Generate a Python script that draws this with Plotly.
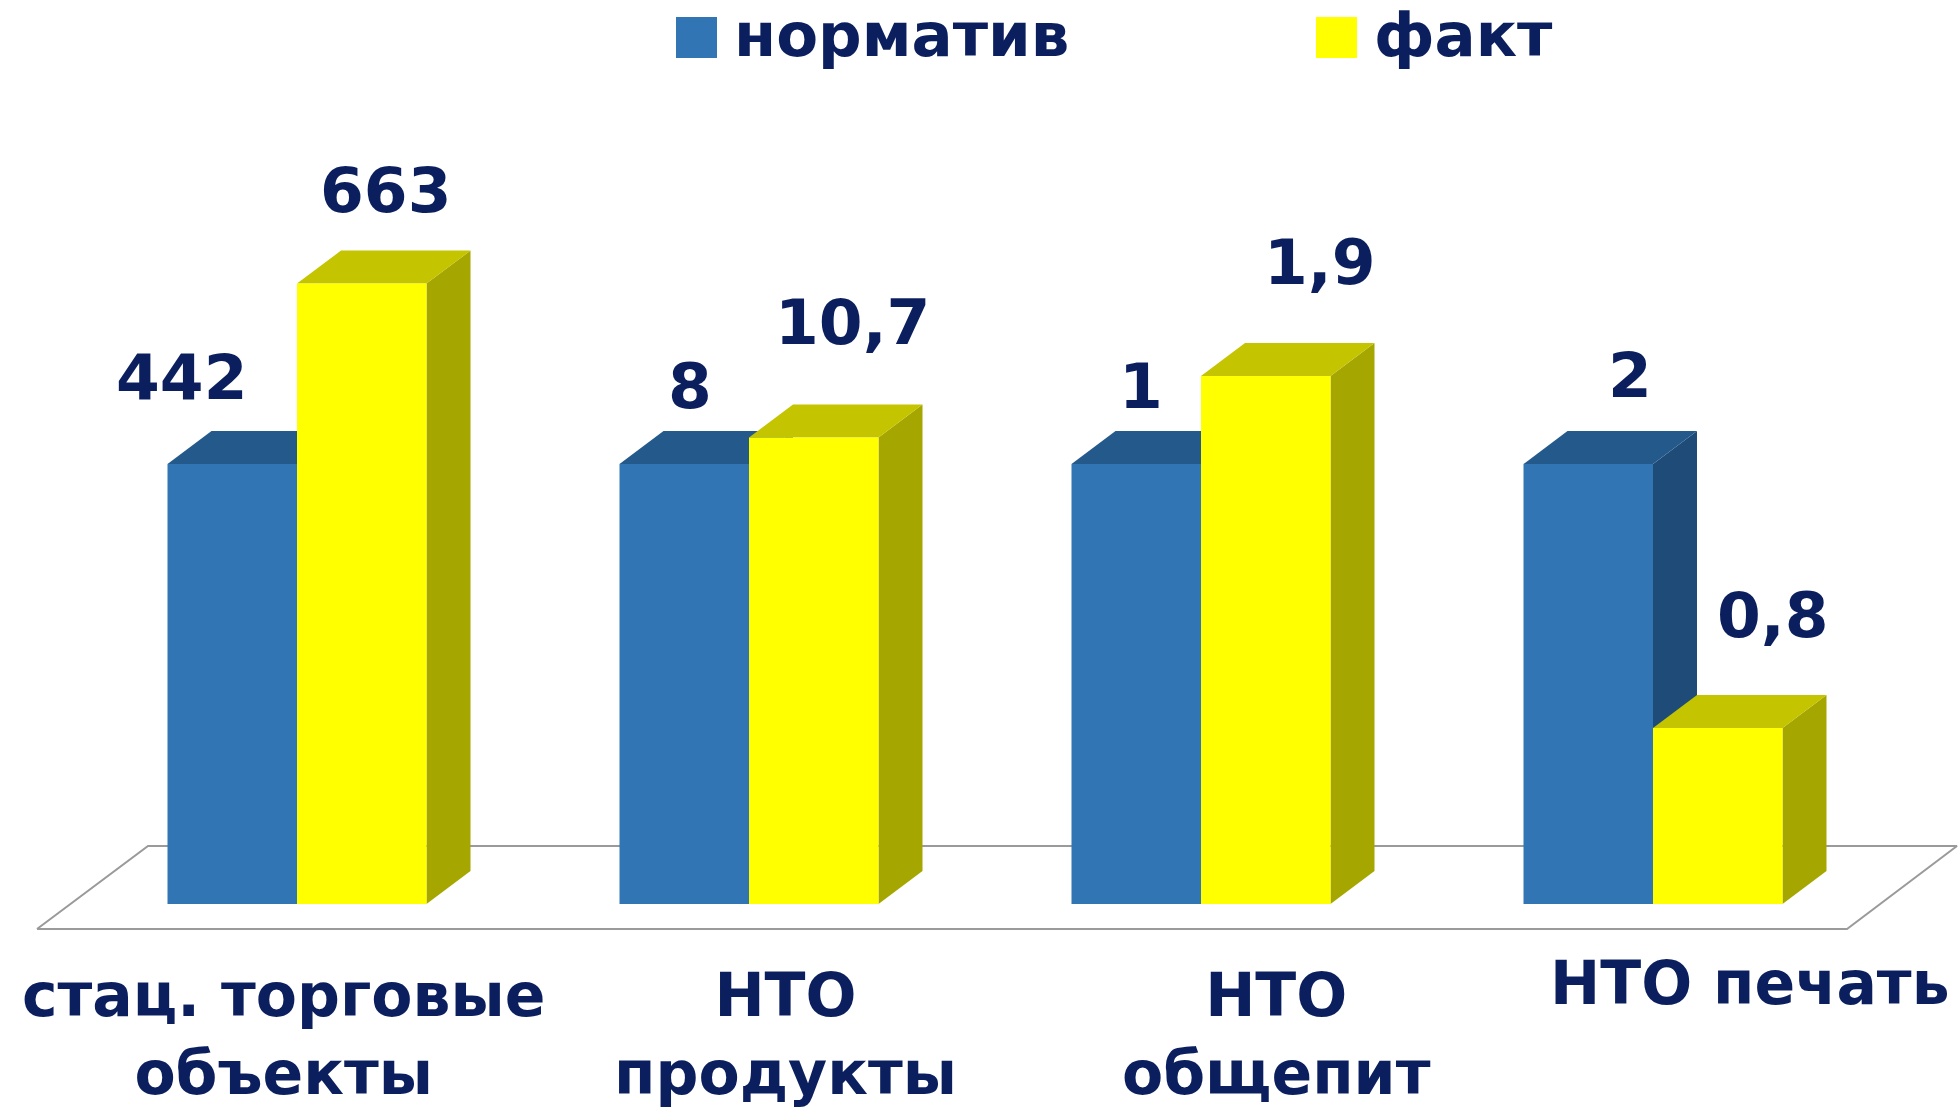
import plotly.graph_objects as go

# ---------------- data ----------------
categories = ["стац. торговые<br>объекты", "НТО<br>продукты", "НТО<br>общепит", "НТО печать"]
series_names = ["норматив", "факт"]
norm_labels = ["442", "8", "1", "2"]
fact_labels = ["663", "10,7", "1,9", "0,8"]
norm_height = [100, 100, 100, 100]      # bar heights (норматив = 100 %)
fact_height = [141, 106, 120, 40]       # bar heights

# ---------------- styling / geometry ----------------
W, H = 1959, 1114
X0PX, XS = 297, 452          # pixel of group 0 centre, pixels per group
Y0PX, YS = 904, 4.4          # pixel of value 0, pixels per unit
BAR_W = 129.5 / XS
DX, DY = 44 / XS, 33 / YS    # depth offsets
NAVY = "#0b1f5e"
FONT = "DejaVu Sans"

BLUE = dict(front="#3175b5", top="#245a8b", side="#1f4b78")
YELLOW = dict(front="#ffff00", top="#c4c400", side="#a6a600")

norm_dx = [-72, -16, -17, 20]
norm_dy = [54, 45, 45, 56]
fact_dx = [2, 17, 32, 33]
fact_dy = [60, 82, 81, 80]
cat_dx = [-14, 36, 75, 97]


def xd(px):
    return (px - X0PX) / XS


def yd(py):
    return (Y0PX - py) / YS


fig = go.Figure()

# floor
fl_x = [xd(37), xd(1847), xd(1957), xd(148), xd(37)]
fl_y = [yd(929), yd(929), yd(846), yd(846), yd(929)]
fig.add_trace(go.Scatter(x=fl_x, y=fl_y, mode="lines",
                         line=dict(color="#9a9a9a", width=2),
                         hoverinfo="skip", showlegend=False))


def add_box(x0, h, colors, name, label):
    x1 = x0 + BAR_W
    # side face
    fig.add_trace(go.Scatter(
        x=[x1, x1 + DX, x1 + DX, x1, x1], y=[0, DY, h + DY, h, 0],
        mode="lines", fill="toself", fillcolor=colors["side"],
        line=dict(width=0), hoverinfo="skip", showlegend=False))
    # top face
    fig.add_trace(go.Scatter(
        x=[x0, x1, x1 + DX, x0 + DX, x0], y=[h, h, h + DY, h + DY, h],
        mode="lines", fill="toself", fillcolor=colors["top"],
        line=dict(width=0), hoverinfo="skip", showlegend=False))
    # front face
    fig.add_trace(go.Scatter(
        x=[x0, x1, x1, x0, x0], y=[0, 0, h, h, 0],
        mode="lines", fill="toself", fillcolor=colors["front"],
        line=dict(width=0), name=name, text=label,
        hoveron="fills", showlegend=False))


for i in range(len(categories)):
    add_box(i - BAR_W, norm_height[i], BLUE, series_names[0], norm_labels[i])
    add_box(i, fact_height[i], YELLOW, series_names[1], fact_labels[i])

annotations = []
for i in range(len(categories)):
    for lab, h, x0, dxs, dys in ((norm_labels[i], norm_height[i], i - BAR_W, norm_dx[i], norm_dy[i]),
                                 (fact_labels[i], fact_height[i], i, fact_dx[i], fact_dy[i])):
        annotations.append(dict(
            x=x0 + BAR_W / 2 + DX / 2, y=h + DY, xref="x", yref="y",
            text=lab, showarrow=False, xanchor="center", yanchor="middle",
            xshift=dxs, yshift=dys,
            font=dict(family=FONT, size=63, color=NAVY, weight=700)))
    single = "<br>" not in categories[i]
    annotations.append(dict(
        x=i, y=yd(946 if single else 958), xref="x", yref="y",
        text=categories[i], showarrow=False, xanchor="center", yanchor="top",
        xshift=cat_dx[i], align="center",
        font=dict(family=FONT, size=60, color=NAVY, weight=700)))

# legend (manual, large)
legend_items = [(676, BLUE["front"], series_names[0]), (1316, YELLOW["front"], series_names[1])]
shapes = []
for lx, col, name in legend_items:
    shapes.append(dict(type="rect", xref="paper", yref="paper",
                       x0=lx / W, x1=(lx + 41) / W, y0=1 - 58 / H, y1=1 - 17 / H,
                       fillcolor=col, line=dict(width=0)))
    annotations.append(dict(x=(lx + 56) / W, y=1 - 35 / H, xref="paper", yref="paper",
                            text=name, showarrow=False, xanchor="left", yanchor="middle",
                            font=dict(family=FONT, size=61, color=NAVY, weight=700)))

fig.update_layout(
    width=W, height=H,
    margin=dict(l=0, r=0, t=0, b=0),
    paper_bgcolor="white", plot_bgcolor="white",
    xaxis=dict(range=[xd(0), xd(W)], visible=False, fixedrange=True),
    yaxis=dict(range=[yd(H), yd(0)], visible=False, fixedrange=True),
    annotations=annotations, shapes=shapes,
    showlegend=False,
)

fig.write_html("out.html", config=dict(displayModeBar=False),
               post_script="document.body.style.margin='0';")
